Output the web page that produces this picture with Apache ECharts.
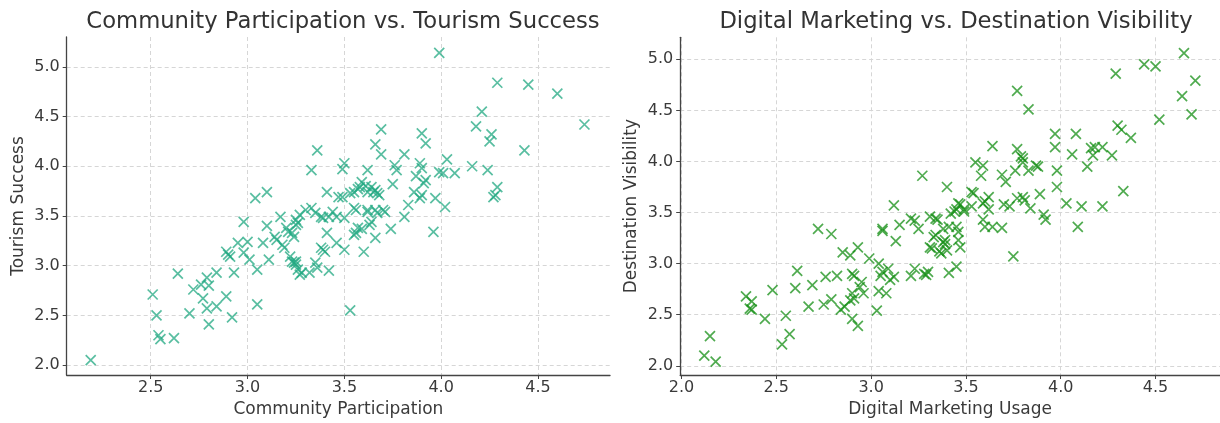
<!DOCTYPE html>
<html>
<head>
<meta charset="utf-8">
<script src="https://cdn.jsdelivr.net/npm/echarts@6/dist/echarts.min.js"></script>
<style>
  html, body { margin: 0; padding: 0; background: #fff; }
  #chart { width: 1220px; height: 423px; }
</style>
</head>
<body>
<div id="chart"></div>
<script>
// Community participation (x) against tourism success (y)
const participation = [
  2.19, 2.51, 2.53, 2.54, 2.55, 2.62, 2.64, 2.70, 2.72, 2.76, 2.77, 2.79, 2.80, 2.79, 2.84, 2.80,
  2.84, 2.89, 2.93, 2.92, 2.89, 2.90, 2.91, 2.95, 3.00, 2.98, 2.98, 3.01, 3.05, 3.05, 3.10, 3.08,
  3.11, 3.10, 3.04, 3.14, 3.15, 3.17, 3.18, 3.19, 3.20, 3.21, 3.23, 3.24, 3.22, 3.23, 3.24, 3.25,
  3.25, 3.26, 3.28, 3.27, 3.27, 3.25, 3.25, 3.26, 3.30, 3.33, 3.35, 3.38, 3.39, 3.42, 3.35, 3.36,
  3.32, 3.42, 3.38, 3.40, 3.39, 3.41, 3.46, 3.50, 3.36, 3.33, 3.50, 3.49, 3.41, 3.47, 3.49, 3.53,
  3.44, 3.46, 3.50, 3.55, 3.57, 3.55, 3.56, 3.55, 3.56, 3.57, 3.59, 3.60, 3.53, 3.59, 3.61, 3.58,
  3.62, 3.64, 3.66, 3.67, 3.65, 3.62, 3.68, 3.62, 3.62, 3.66, 3.67, 3.70, 3.71, 3.63, 3.64, 3.66,
  3.69, 3.66, 3.69, 3.76, 3.77, 3.75, 3.74, 3.81, 3.81, 3.83, 3.87, 3.86, 3.89, 3.90, 3.89, 3.90,
  3.90, 3.92, 3.91, 3.92, 3.96, 3.97, 3.99, 4.01, 4.02, 4.03, 4.07, 3.99, 4.16, 4.18, 4.21, 4.24,
  4.25, 4.26, 4.29, 4.29, 4.28, 4.27, 4.43, 4.45, 4.60, 4.74
];
const tourismSuccess = [
  2.05, 2.71, 2.50, 2.30, 2.26, 2.27, 2.92, 2.52, 2.76, 2.81, 2.67, 2.88, 2.80, 2.57, 2.59, 2.41,
  2.93, 2.69, 2.93, 2.48, 3.14, 3.11, 3.09, 3.23, 3.24, 3.44, 3.13, 3.06, 2.96, 2.61, 3.40, 3.23,
  3.06, 3.74, 3.68, 3.29, 3.26, 3.49, 3.21, 3.18, 3.38, 3.34, 3.33, 3.29, 3.09, 3.04, 3.03, 3.04,
  3.01, 2.96, 2.93, 2.91, 3.51, 3.46, 3.41, 3.43, 3.56, 3.58, 3.53, 3.49, 3.48, 3.49, 3.03, 2.98,
  2.93, 2.95, 3.18, 3.14, 3.16, 3.33, 3.23, 3.16, 4.16, 3.96, 4.03, 3.97, 3.74, 3.69, 3.69, 3.73,
  3.54, 3.49, 3.48, 3.74, 3.77, 3.58, 3.56, 3.31, 3.33, 3.38, 3.37, 3.14, 2.55, 3.84, 3.80, 3.79,
  3.96, 3.79, 3.76, 3.73, 3.74, 3.74, 3.71, 3.54, 3.56, 3.56, 3.53, 3.56, 3.54, 3.41, 3.44, 3.28,
  4.37, 4.22, 4.12, 4.01, 3.96, 3.82, 3.37, 3.49, 4.12, 3.61, 3.90, 3.74, 3.68, 3.71, 4.03, 3.98,
  4.33, 4.23, 3.83, 3.86, 3.34, 3.68, 3.94, 3.93, 3.59, 4.07, 3.93, 5.14, 4.00, 4.40, 4.55, 3.96,
  4.25, 4.32, 4.84, 3.79, 3.71, 3.69, 4.16, 4.82, 4.73, 4.42
];

// Digital marketing usage (x) against destination visibility (y)
const marketingUsage = [
  2.12, 2.15, 2.18, 2.34, 2.37, 2.36, 2.37, 2.44, 2.48, 2.55, 2.57, 2.53, 2.61, 2.60, 2.67, 2.69,
  2.72, 2.79, 2.76, 2.82, 2.75, 2.79, 2.84, 2.86, 2.85, 2.89, 2.93, 2.90, 2.91, 2.95, 2.94, 2.96,
  2.90, 2.91, 2.89, 2.90, 2.93, 2.99, 3.04, 3.04, 3.03, 3.05, 3.06, 3.08, 3.09, 3.10, 3.12, 3.06,
  3.06, 3.13, 3.12, 3.15, 3.21, 3.23, 3.21, 3.23, 3.25, 3.28, 3.29, 3.30, 3.27, 3.31, 3.34, 3.35,
  3.31, 3.32, 3.34, 3.33, 3.36, 3.37, 3.40, 3.38, 3.39, 3.38, 3.41, 3.45, 3.46, 3.46, 3.47, 3.45,
  3.41, 3.40, 3.42, 3.44, 3.45, 3.47, 3.49, 3.53, 3.54, 3.55, 3.59, 3.58, 3.62, 3.60, 3.62, 3.59,
  3.60, 3.64, 3.69, 3.64, 3.69, 3.71, 3.70, 3.73, 3.75, 3.77, 3.83, 3.77, 3.79, 3.80, 3.80, 3.76,
  3.83, 3.87, 3.88, 3.77, 3.80, 3.81, 3.84, 3.89, 3.91, 3.92, 3.97, 3.97, 3.98, 3.98, 4.03, 4.06,
  4.08, 4.09, 4.11, 4.14, 4.16, 4.18, 4.22, 4.17, 4.22, 4.27, 4.29, 4.30, 4.32, 4.33, 4.37, 4.44,
  4.50, 4.52, 4.64, 4.65, 4.69, 4.71, 3.39, 3.46, 3.49, 3.53, 3.59
];
const visibility = [
  2.10, 2.29, 2.04, 2.68, 2.63, 2.56, 2.55, 2.46, 2.74, 2.49, 2.31, 2.21, 2.93, 2.76, 2.58, 2.79,
  3.34, 3.29, 2.87, 2.88, 2.60, 2.65, 2.55, 2.58, 3.11, 3.08, 3.16, 2.90, 2.88, 2.82, 2.77, 2.71,
  2.71, 2.66, 2.64, 2.46, 2.39, 3.05, 3.00, 2.73, 2.54, 2.88, 2.92, 2.71, 2.95, 2.84, 2.87, 3.34,
  3.32, 3.22, 3.57, 3.38, 2.88, 2.95, 3.44, 3.42, 3.34, 2.90, 2.89, 2.92, 3.86, 3.46, 3.44, 3.43,
  3.16, 3.15, 3.28, 3.26, 3.12, 3.10, 3.13, 3.21, 3.23, 3.34, 3.36, 3.36, 3.31, 3.23, 3.16, 2.97,
  2.91, 3.75, 3.49, 3.51, 3.53, 3.58, 3.53, 3.70, 3.69, 3.99, 3.96, 3.86, 3.65, 3.61, 3.53, 3.43,
  3.36, 3.36, 3.35, 4.15, 3.87, 3.80, 3.58, 3.56, 3.07, 4.69, 4.51, 4.12, 4.05, 4.03, 3.99, 3.91,
  3.91, 3.96, 3.95, 3.64, 3.65, 3.62, 3.54, 3.68, 3.48, 3.43, 4.27, 4.14, 3.91, 3.75, 3.59, 4.07,
  4.27, 3.36, 3.56, 3.95, 4.13, 4.14, 4.14, 4.06, 3.56, 4.06, 4.86, 4.35, 4.31, 3.71, 4.23, 4.95,
  4.93, 4.41, 4.64, 5.06, 4.46, 4.79, 3.19, 3.59, 3.51, 3.56, 3.59
];

// Tick positions shared by both panels
const xTicks = [2.0, 2.5, 3.0, 3.5, 4.0, 4.5];
const yTicks = [2.0, 2.5, 3.0, 3.5, 4.0, 4.5, 5.0];

const FONT = 'DejaVu Sans';
const TEXT = '#3a3a3a';
const CROSS = 'path://M0,0L10,10M10,0L0,10';

function zip(xs, ys) { return xs.map((v, i) => [v, ys[i]]); }

function valueAxis(gridIndex, name, min, max, ticks, isY) {
  return {
    type: 'value',
    gridIndex,
    name,
    nameLocation: 'middle',
    nameGap: isY ? 40 : 26,
    nameTextStyle: { fontFamily: FONT, fontSize: 17, color: TEXT },
    min, max,
    axisLine: { show: true, lineStyle: { color: '#444', width: 1.3 } },
    axisTick: { show: true, inside: false, length: 4, customValues: ticks, lineStyle: { color: '#444' } },
    axisLabel: {
      customValues: ticks, margin: isY ? 7 : 5, fontFamily: FONT, fontSize: 16, color: TEXT,
      formatter: v => v.toFixed(1)
    },
    splitLine: { show: true, lineStyle: { color: '#d6d6d6', type: [4, 3], width: 1 } }
  };
}

function crossSeries(xIdx, data, color) {
  return {
    type: 'scatter',
    xAxisIndex: xIdx,
    yAxisIndex: xIdx,
    data,
    symbol: CROSS,
    symbolSize: 10,
    itemStyle: { color: 'rgba(0,0,0,0)', borderColor: color, borderWidth: 1.7, opacity: 0.75 },
    emphasis: { disabled: true },
    silent: true
  };
}

const chart = echarts.init(document.getElementById('chart'), null, { renderer: 'canvas' });
chart.setOption({
  animation: false,
  backgroundColor: '#fff',
  title: [
    { text: 'Community Participation vs. Tourism Success', left: 338, top: 6, textAlign: 'center',
      textStyle: { fontFamily: FONT, fontSize: 22.7, fontWeight: 'normal', color: '#333' } },
    { text: 'Digital Marketing vs. Destination Visibility', left: 951, top: 6, textAlign: 'center',
      textStyle: { fontFamily: FONT, fontSize: 22.7, fontWeight: 'normal', color: '#333' } }
  ],
  grid: [
    { left: 66.7, top: 37, width: 543.3, height: 338.7, containLabel: false },
    { left: 680.2, top: 37.3, width: 542, height: 337.7, containLabel: false }
  ],
  xAxis: [
    valueAxis(0, 'Community Participation', 2.066, 4.872, xTicks.slice(1), false),
    valueAxis(1, 'Digital Marketing Usage', 1.993, 4.84, xTicks, false)
  ],
  yAxis: [
    valueAxis(0, 'Tourism Success', 1.9, 5.3, yTicks, true),
    valueAxis(1, 'Destination Visibility', 1.91, 5.215, yTicks, true)
  ],
  series: [
    crossSeries(0, zip(participation, tourismSuccess), '#22a882'),
    crossSeries(1, zip(marketingUsage, visibility), '#168f16')
  ]
});
</script>
</body>
</html>
